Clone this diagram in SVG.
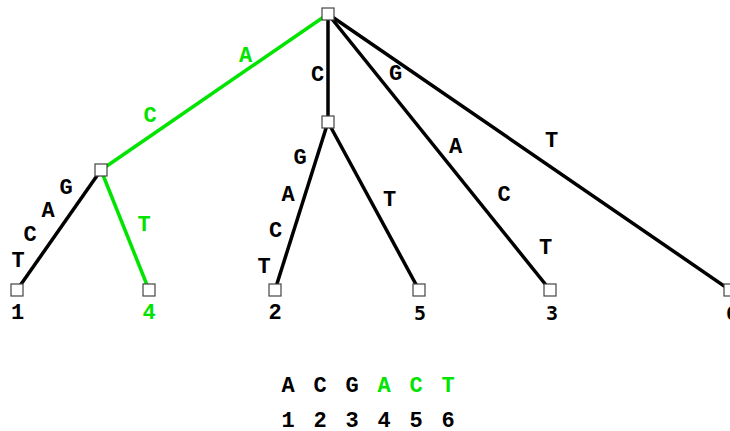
<svg xmlns="http://www.w3.org/2000/svg" width="730" height="431" viewBox="0 0 730 431">
<style>
.e{stroke:#000;stroke-width:3.5;fill:none}
.g{stroke:#00e400}
.n{fill:#fff;stroke:#444;stroke-width:1.2}
.l{font-family:"Liberation Mono","Courier New",monospace;font-weight:bold;font-size:22px;text-anchor:middle;fill:#000}
.s{font-family:"DejaVu Sans Mono",monospace;font-weight:bold;font-size:20px;text-anchor:middle;fill:#000}
.gt{fill:#00e400}
</style>
<rect width="730" height="431" fill="#fff"/>
<g id="connectors">
<line class="e g" x1="328" y1="14" x2="101" y2="170"/>
<line class="e" x1="328" y1="14" x2="328" y2="122"/>
<line class="e" x1="328" y1="14" x2="550" y2="290"/>
<line class="e" x1="328" y1="14" x2="730" y2="290"/>
<line class="e" x1="101" y1="170" x2="17" y2="290"/>
<line class="e g" x1="101" y1="170" x2="149" y2="290"/>
<line class="e" x1="328" y1="122" x2="275" y2="290"/>
<line class="e" x1="328" y1="122" x2="419" y2="290"/>
</g>
<g id="edge-labels">
<text class="l gt" x="245.5" y="62">A</text>
<text class="l gt" x="150" y="122">C</text>
<text class="l" x="317.5" y="81">C</text>
<text class="l" x="395.5" y="80">G</text>
<text class="l" x="455.5" y="153">A</text>
<text class="l" x="504" y="201">C</text>
<text class="l" x="545.5" y="254">T</text>
<text class="l" x="551.5" y="147">T</text>
<text class="l" x="300" y="164">G</text>
<text class="l" x="288" y="201">A</text>
<text class="l" x="275.5" y="237">C</text>
<text class="l" x="264" y="273">T</text>
<text class="l" x="389.5" y="206">T</text>
<text class="l" x="66" y="194">G</text>
<text class="l" x="48" y="217">A</text>
<text class="l" x="30" y="241">C</text>
<text class="l" x="18" y="267">T</text>
<text class="l gt" x="144" y="231">T</text>
</g>
<g id="root"><rect class="n" x="322" y="8" width="12" height="12"/></g>
<g id="node-left"><rect class="n" x="95" y="164" width="12" height="12"/></g>
<g id="node-mid"><rect class="n" x="322" y="116" width="12" height="12"/></g>
<g id="leaf-1"><rect class="n" x="11" y="284" width="12" height="12"/><text class="l" x="17.5" y="319">1</text></g>
<g id="leaf-4"><rect class="n" x="143" y="284" width="12" height="12"/><text class="l gt" x="149" y="319">4</text></g>
<g id="leaf-2"><rect class="n" x="269" y="284" width="12" height="12"/><text class="l" x="275" y="319">2</text></g>
<g id="leaf-5"><rect class="n" x="413" y="284" width="12" height="12"/><text class="s" x="420" y="320">5</text></g>
<g id="leaf-3"><rect class="n" x="544" y="284" width="12" height="12"/><text class="s" x="552" y="320">3</text></g>
<g id="leaf-6"><rect class="n" x="724" y="284" width="12" height="12"/><text class="s" x="732" y="320">6</text></g>
<g id="sequence">
<text class="l" x="288" y="392">A</text>
<text class="l" x="320" y="392">C</text>
<text class="l" x="352" y="392">G</text>
<text class="l gt" x="384" y="392">A</text>
<text class="l gt" x="416" y="392">C</text>
<text class="l gt" x="448" y="392">T</text>
<text class="l" x="288" y="427">1</text>
<text class="l" x="320" y="427">2</text>
<text class="l" x="352" y="427">3</text>
<text class="l" x="384" y="427">4</text>
<text class="l" x="416" y="427">5</text>
<text class="l" x="448" y="427">6</text>
</g>
</svg>
